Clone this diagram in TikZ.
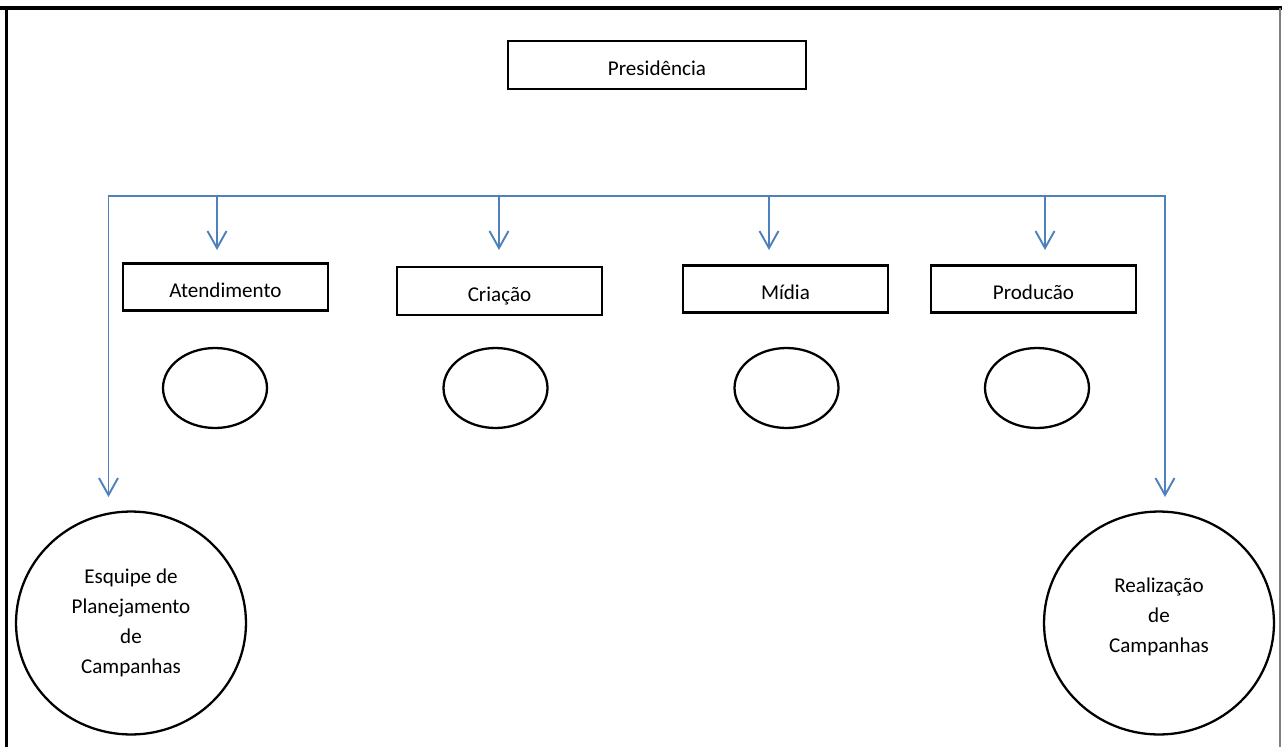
\documentclass[tikz,border=0pt]{standalone}
\usepackage{fontspec}
\setmainfont{Carlito}
\usepackage{tikz}
\usetikzlibrary{positioning,arrows.meta,shapes.geometric}
\definecolor{busblue}{RGB}{79,129,189}

\begin{document}
\begin{tikzpicture}[
    x=0.02cm, y=-0.02cm,
    every node/.style={font=\fontsize{12}{17}\selectfont},
    box/.style={draw, line width=1.6pt, minimum width=4.1cm, minimum height=0.95cm, inner sep=0pt, text height=12pt, text depth=0pt},
    oval/.style={draw, ellipse, line width=1.3pt, minimum width=2.08cm, minimum height=1.6cm, inner sep=0pt},
    bigoval/.style={draw, ellipse, line width=1.3pt, minimum width=4.6cm, minimum height=4.46cm, align=center, inner sep=0pt},
    bus/.style={draw=busblue, line width=1.1pt},
    >={Straight Barb[length=3.4mm, width=3.8mm]}
]
\useasboundingbox (0,0) rectangle (1282,747);

% page frame
\draw[line width=2.3pt] (0,8) -- (1282,8);
\draw[line width=1.7pt] (6.5,8) -- (6.5,747);
\draw[gray, line width=0.6pt] (1280,8) -- (1280,747);

\node[box, minimum width=5.96cm, minimum height=0.96cm] (pres) at (657,65) {Presidência};

\node[box] (aten) at (225.5,287) {Atendimento};
\node[box, minimum height=0.96cm] (cria) at (499.5,291) {Criação};
\node[box] (midia) at (785.5,289) {Mídia};
\node[box] (prod) at (1033.5,289) {Producão};

\node[oval] (ovAten) at (215,388) {};
\node[oval] (ovCria) at (495.5,388) {};
\node[oval] (ovMidia) at (786.5,388) {};
\node[oval] (ovProd) at (1037,388) {};

\node[bigoval] (esq) at (131,623) {Esquipe de\\Planejamento\\de\\Campanhas};
\node[bigoval] (real) at (1159,623) {Realização\\de\\Campanhas\\[-8pt]};

% bus
\coordinate (busL) at (108.5,196);
\coordinate (busR) at (1165,196);
\coordinate (esqIn) at (108.5,497);
\coordinate (realIn) at (1165,497);
\draw[bus, <->] (esqIn) -- (busL) -- (busR) -- (realIn);

\foreach \n/\x in {aten/217, cria/499, midia/769, prod/1045} {
  \coordinate (\n top) at (\x,250);
  \draw[bus, ->] (\n top |- busL) -- (\n top);
}

\end{tikzpicture}
\end{document}
